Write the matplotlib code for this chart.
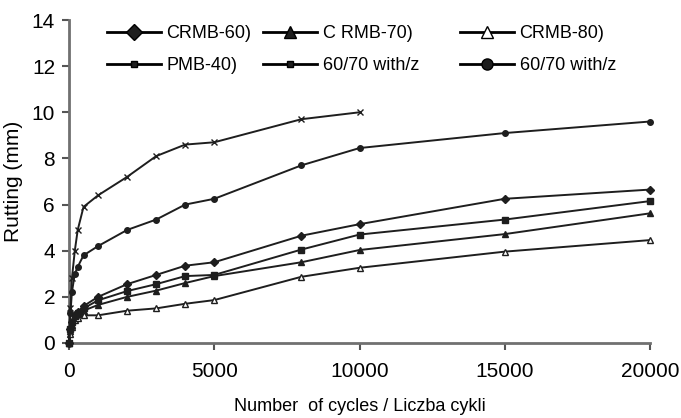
import matplotlib
matplotlib.use('Agg')
import matplotlib.pyplot as plt
from matplotlib.lines import Line2D

# Dane
cycles = [0, 50, 100, 200, 300, 500, 1000, 2000, 3000, 4000, 5000, 8000, 10000, 15000, 20000]

crmb_60 = [0, 0.6, 0.9, 1.2, 1.35, 1.6, 2.0, 2.55, 2.95, 3.35, 3.5, 4.65, 5.15, 6.25, 6.65]
crmb_70 = [0, 0.5, 0.8, 1.1, 1.25, 1.4, 1.65, 2.0, 2.27, 2.6, 2.9, 3.5, 4.03, 4.72, 5.62]
crmb_80 = [0, 0.4, 0.7, 1.0, 1.1, 1.2, 1.2, 1.4, 1.5, 1.7, 1.86, 2.87, 3.26, 3.96, 4.46]
pmb_40 = [0, 1.5, 2.8, 4.0, 4.9, 5.9, 6.4, 7.2, 8.1, 8.6, 8.7, 9.7, 10.0]
fibre_1 = [0, 0.6, 0.9, 1.15, 1.3, 1.5, 1.85, 2.25, 2.55, 2.9, 2.95, 4.05, 4.7, 5.35, 6.15]
fibre_2 = [0, 1.3, 2.2, 3.0, 3.3, 3.8, 4.2, 4.9, 5.35, 6.0, 6.25, 7.7, 8.45, 9.1, 9.6]

labels = ['CRMB-60)', 'C RMB-70)', 'CRMB-80)', 'PMB-40)', '60/70 with/z', '60/70 with/z']
xticks = [0, 5000, 10000, 15000, 20000]
yticks = [0, 2, 4, 6, 8, 10, 12, 14]

plt.rcParams['font.family'] = ['Liberation Sans', 'DejaVu Sans']

fig = plt.figure(figsize=(6.81, 4.18), dpi=100)
ax = fig.add_axes([69 / 681, 75 / 418, 581 / 681, 323 / 418])

line_col = '#1e1e1e'
series = [
    (cycles, crmb_60, 'D', line_col),
    (cycles, crmb_70, '^', line_col),
    (cycles, crmb_80, '^', 'white'),
    (cycles[:len(pmb_40)], pmb_40, 'x', line_col),
    (cycles, fibre_1, 's', line_col),
    (cycles, fibre_2, 'o', line_col),
]
for xs, ys, m, fc in series:
    ax.plot(xs, ys, color=line_col, lw=1.4, marker=m, ms=4,
            markerfacecolor=fc, markeredgecolor=line_col, markeredgewidth=1.0,
            clip_on=False, zorder=3)

ax.set_xlim(0, 20000)
ax.set_ylim(0, 14)
ax.set_xticks(xticks)
ax.set_yticks(yticks)
ax.tick_params(axis='both', labelsize=15, length=5, width=1.5, color='#555555')
ax.tick_params(axis='x', pad=9)
ax.tick_params(axis='y', pad=5)

for s in ['top', 'right']:
    ax.spines[s].set_visible(False)
for s in ['left', 'bottom']:
    ax.spines[s].set_color('#707070')
    ax.spines[s].set_linewidth(2)

ax.set_ylabel('Rutting (mm)', fontsize=15, labelpad=6)
ax.set_xlabel('Number  of cycles / Liczba cykli', fontsize=13, labelpad=12)

# Legenda - trzy kolumny jako osobne legendy
markers = ['D', '^', '^', 's', 's', 'o']
sizes = [8, 8, 8, 4, 4, 8]
faces = [line_col, line_col, 'white', line_col, line_col, line_col]
handles = [Line2D([], [], color='black', lw=2, marker=m, ms=ms,
                  markerfacecolor=fc, markeredgecolor='black')
           for m, ms, fc in zip(markers, sizes, faces)]

col_x = [107, 263, 460]
for i in range(3):
    fig.legend([handles[i], handles[i + 3]], [labels[i], labels[i + 3]],
               loc='upper left', bbox_to_anchor=(col_x[i] / 681, 1 - 25 / 418),
               frameon=False, fontsize=13, handlelength=3.0, handletextpad=0.3,
               borderpad=0, borderaxespad=0, labelspacing=0.85)

fig.savefig('out.png', dpi=100)
